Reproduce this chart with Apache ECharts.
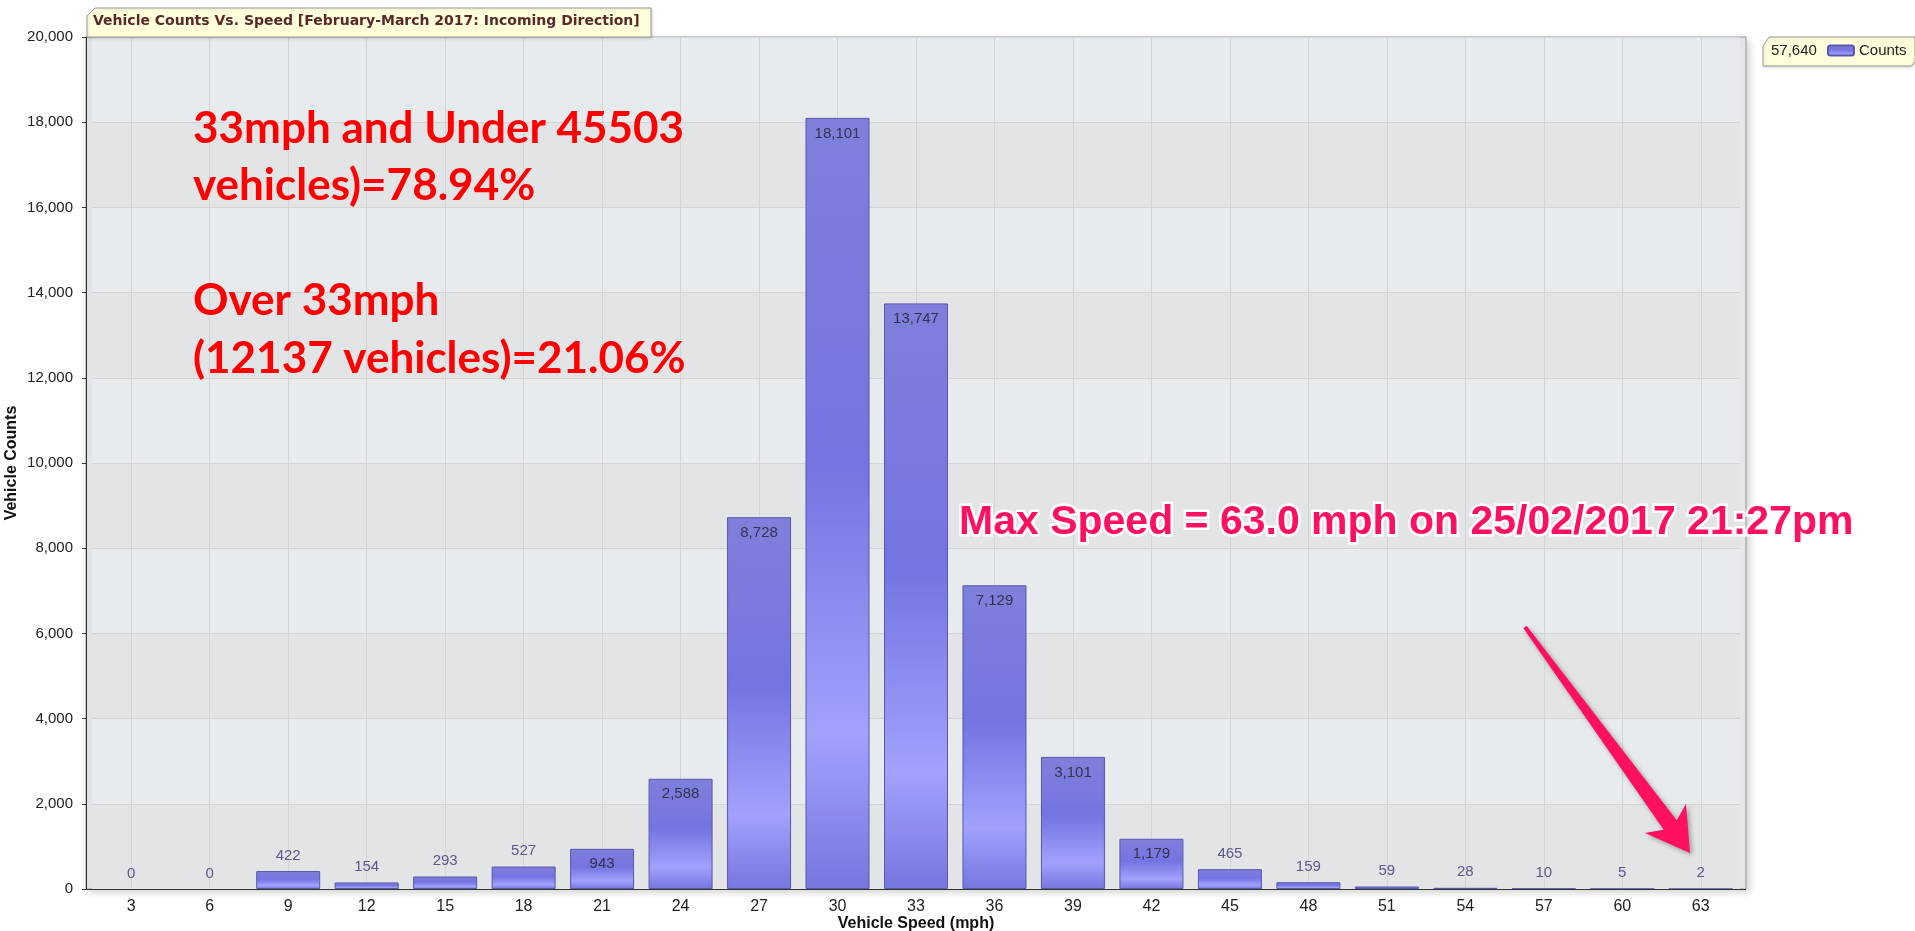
<!DOCTYPE html>
<html>
<head>
<meta charset="utf-8">
<script src="https://cdn.jsdelivr.net/npm/echarts@6/dist/echarts.min.js"></script>
<style>
html,body{margin:0;padding:0;background:#fff;}
#chart{width:1915px;height:931px;}
</style>
</head>
<body>
<div id="chart"></div>
<script>
// ---- data ----
const speeds = ['3','6','9','12','15','18','21','24','27','30','33','36','39','42','45','48','51','54','57','60','63'];
const counts = [0,0,422,154,293,527,943,2588,8728,18101,13747,7129,3101,1179,465,159,59,28,10,5,2];
const yMin = 0, yMax = 20000, yStep = 2000;
const titleText = 'Vehicle Counts Vs. Speed [February-March 2017: Incoming Direction]';
const seriesName = 'Counts';
const noteLines = ['33mph and Under 45503', 'vehicles)=78.94%', '', 'Over 33mph', '(12137 vehicles)=21.06%'];
const maxSpeedNote = 'Max Speed = 63.0 mph on 25/02/2017 21:27pm';

const total = counts.reduce((a, b) => a + b, 0);
const fmt = v => v.toLocaleString('en-US');

const chart = echarts.init(document.getElementById('chart'));

const barFill = {
  type: 'linear', x: 0, y: 0, x2: 0, y2: 1,
  colorStops: [
    {offset: 0, color: '#7f7fdb'},
    {offset: 0.45, color: '#7474e2'},
    {offset: 0.8, color: '#a0a2fc'},
    {offset: 1, color: '#7676e0'}
  ]
};

const barData = counts.map(v => ({
  value: v,
  itemStyle: v === 0 ? {borderWidth: 0} : undefined,
  label: v > 800
    ? {position: 'insideTop', color: '#33334d'}
    : {position: 'top', color: '#5a5a8c'}
}));

chart.setOption({
  animation: false,
  textStyle: {fontFamily: 'Liberation Sans, Arial, sans-serif'},
  title: {
    text: titleText,
    left: 93, top: 14,
    padding: 0,
    textStyle: {fontFamily: 'DejaVu Sans', fontWeight: 'bold', fontSize: 14, color: '#5a2828'}
  },
  legend: {
    data: [seriesName],
    left: 1827, top: 43,
    padding: 0,
    itemWidth: 26, itemHeight: 10,
    textStyle: {fontSize: 15, color: '#222'}
  },
  grid: {left: 92, right: 175, top: 37, bottom: 42, containLabel: false, outerBoundsMode: 'none'},
  xAxis: {
    type: 'category',
    data: speeds,
    name: 'Vehicle Speed (mph)',
    nameLocation: 'middle',
    nameGap: 27,
    nameMoveOverlap: false,
    nameTextStyle: {fontWeight: 'bold', fontSize: 16, color: '#111'},
    axisLine: {lineStyle: {color: '#333'}},
    axisTick: {alignWithLabel: true, length: 5, lineStyle: {color: '#333'}},
    axisLabel: {fontSize: 16, color: '#222', margin: 10, interval: 0},
    splitLine: {show: true, alignWithLabel: true, interval: 0, lineStyle: {color: '#d3d4d6'}}
  },
  yAxis: {
    type: 'value',
    min: yMin, max: yMax, interval: yStep,
    offset: 6,
    name: 'Vehicle Counts',
    nameLocation: 'middle',
    nameGap: 66,
    nameRotate: 90,
    nameMoveOverlap: false,
    nameTextStyle: {fontWeight: 'bold', fontSize: 16, color: '#111'},
    axisLine: {show: true, lineStyle: {color: '#333'}},
    axisTick: {show: true, length: 4, lineStyle: {color: '#333'}},
    axisLabel: {fontSize: 15, color: '#222', margin: 13, formatter: v => fmt(v)},
    splitLine: {lineStyle: {color: '#d3d4d6'}},
    splitArea: {show: true, areaStyle: {color: ['#e3e4e6', '#e8ebee']}}
  },
  series: [{
    name: seriesName,
    type: 'bar',
    data: barData,
    barWidth: 64,
    itemStyle: {color: barFill, borderColor: '#5858ad', borderWidth: 1},
    label: {show: true, fontSize: 15, distance: 8, formatter: p => fmt(p.value)}
  }],
  graphic: [
    // plot background (covers the small padding beside the category bands)
    {type: 'rect', z: -10, shape: {x: 86, y: 37, width: 1660, height: 852},
      style: {fill: '#e6e7ea', stroke: '#999', lineWidth: 1, shadowBlur: 8, shadowColor: 'rgba(0,0,0,0.18)', shadowOffsetX: 3, shadowOffsetY: 3}},
    {type: 'line', z: 5, shape: {x1: 86, y1: 889.5, x2: 1746, y2: 889.5}, style: {stroke: '#333', lineWidth: 1}},
    // title box
    {type: 'polygon', z: 4, shape: {points: [[95, 8], [651, 8], [651, 37], [87, 37], [87, 16]]},
      style: {fill: '#ffffdc', stroke: '#9a9a9a', lineWidth: 1, shadowBlur: 3, shadowColor: 'rgba(0,0,0,0.15)', shadowOffsetX: 1, shadowOffsetY: 1}},
    // legend box
    {type: 'polygon', z: 4, shape: {points: [[1769, 37], [1915, 37], [1915, 62], [1911, 66], [1763, 66], [1763, 46]]},
      style: {fill: '#ffffdc', stroke: '#9a9a9a', lineWidth: 1, shadowBlur: 3, shadowColor: 'rgba(0,0,0,0.15)', shadowOffsetX: 1, shadowOffsetY: 1}},
    {type: 'text', z: 6, x: 1771, y: 51,
      style: {text: fmt(total), font: '15px "Liberation Sans", Arial, sans-serif', fill: '#222', verticalAlign: 'middle'}},
    // red notes
    {type: 'text', z: 10, x: 193, y: 100,
      style: {text: noteLines.join('\n'), font: 'bold 44px Lato, sans-serif', fill: '#ff0000', lineHeight: 57.5, verticalAlign: 'top'}},
    // max speed note
    {type: 'text', z: 10, x: 959, y: 523,
      style: {text: maxSpeedNote, font: 'bold 41px "Liberation Sans", Arial, sans-serif', fill: '#ff1060',
        stroke: '#ffffff', lineWidth: 5, strokeFirst: true, verticalAlign: 'middle',
        shadowBlur: 4, shadowColor: 'rgba(0,0,0,0.4)', shadowOffsetX: 2, shadowOffsetY: 2}},
    // arrow
    {type: 'polygon', z: 10,
      shape: {points: [[1526.6, 625.8], [1676.7, 820.3], [1686, 804], [1690, 853], [1645, 833], [1663.7, 829.7], [1523.4, 628.2]]},
      style: {fill: '#ff1060', shadowBlur: 5, shadowColor: 'rgba(0,0,0,0.35)', shadowOffsetX: 2, shadowOffsetY: 2}}
  ]
});
</script>
</body>
</html>
